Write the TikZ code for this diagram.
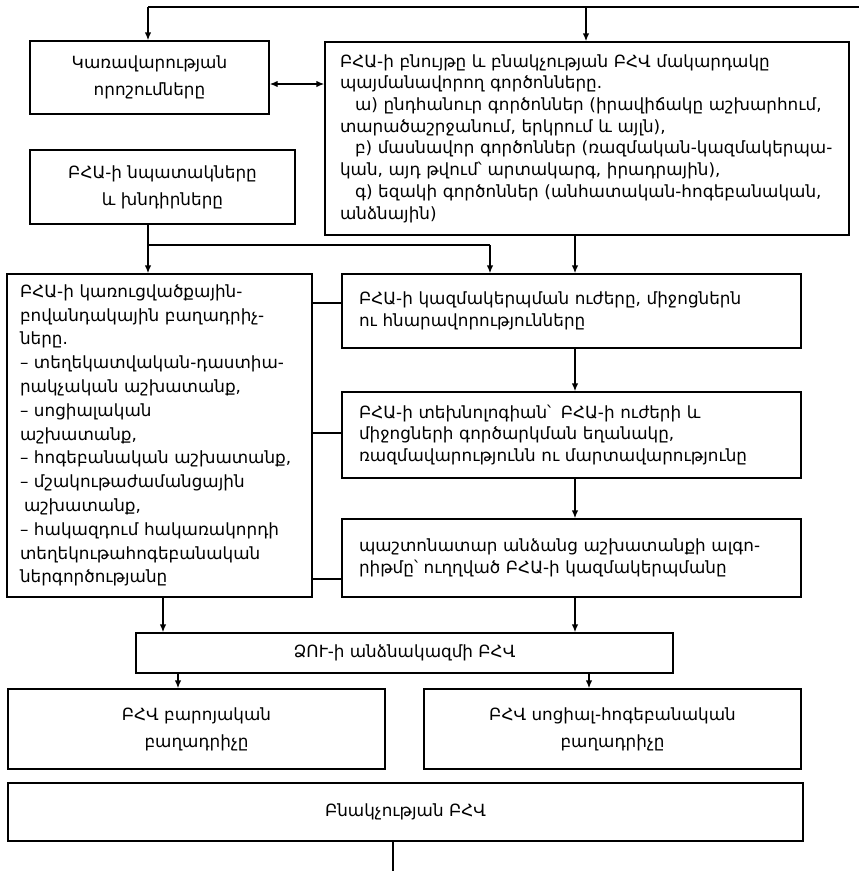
\documentclass[tikz,border=0pt]{standalone}
\usepackage{fontspec}
\setmainfont{DejaVu Sans}
\usetikzlibrary{arrows.meta}
\newcommand\fsA{\fontsize{16.8}{21.7}\selectfont}
\newcommand\fsB{\fontsize{16.8}{23.8}\selectfont}
\newcommand\fsC{\fontsize{16.8}{27}\selectfont}
\begin{document}
\begin{tikzpicture}[x=1pt,y=-1pt,
  box/.style={draw, line width=1.4pt, inner ysep=0pt},
  cbox/.style={box, align=center, font=\fsC},
  lbox/.style={box, align=left},
  arr/.style={-{Latex[length=8pt,width=6.5pt]}, line width=1.4pt},
  ln/.style={line width=1.4pt}]
\useasboundingbox (0,0) rectangle (859,871);
% boxes
\node[cbox, minimum width=239pt, minimum height=73pt] (gov) at (149.5,77.5) {Կառավարության\\որոշումները};
\node[lbox, font=\fsA, minimum width=524pt, minimum height=193pt, text width=498pt, inner xsep=13pt] (fac) at (587,138.5)
 {\hspace*{2pt}ԲՀԱ-ի բնույթը և բնակչության ԲՀՎ մակարդակը\\
  \hspace*{2pt}պայմանավորող գործոնները.\\
  \hspace*{17pt}ա) ընդհանուր գործոններ (իրավիճակը աշխարհում,\\
  \hspace*{2pt}տարածաշրջանում, երկրում և այլն),\\
  \hspace*{17pt}բ) մասնավոր գործոններ (ռազմական-կազմակերպա-\\
  \hspace*{2pt}կան, այդ թվում՝ արտակարգ, իրադրային),\\
  \hspace*{17pt}գ) եզակի գործոններ (անհատական-հոգեբանական,\\
  \hspace*{2pt}անձնային)};
\node[cbox, minimum width=265pt, minimum height=74pt] (goal) at (162.5,187) {ԲՀԱ-ի նպատակները\\և խնդիրները};
\node[lbox, font=\fsB, minimum width=305pt, minimum height=323pt, text width=283pt, inner xsep=11pt] (comp) at (159.5,435.5)
 {\hspace*{2pt}ԲՀԱ-ի կառուցվածքային-\\
  \hspace*{2pt}բովանդակային բաղադրիչ-\\
  \hspace*{2pt}ները.\\
  \hspace*{2pt}– տեղեկատվական-դաստիա-\\
  \hspace*{2pt}րակչական աշխատանք,\\
  \hspace*{2pt}– սոցիալական\\
  \hspace*{2pt}աշխատանք,\\
  \hspace*{2pt}– հոգեբանական աշխատանք,\\
  \hspace*{2pt}– մշակութաժամանցային\\
  \hspace*{6pt}աշխատանք,\\
  \hspace*{2pt}– հակազդում հակառակորդի\\
  \hspace*{2pt}տեղեկութահոգեբանական\\
  \hspace*{2pt}ներգործությանը};
\node[lbox, font=\fsA, minimum width=459pt, minimum height=74pt, text width=429pt, inner xsep=15pt] (forces) at (571.5,311)
 {\hspace*{2pt}ԲՀԱ-ի կազմակերպման ուժերը, միջոցներն\\\hspace*{2pt}ու հնարավորությունները};
\node[lbox, font=\fsA, minimum width=459pt, minimum height=86pt, text width=429pt, inner xsep=15pt] (tech) at (571.5,435)
 {\hspace*{2pt}ԲՀԱ-ի տեխնոլոգիան՝\hspace{4pt} ԲՀԱ-ի ուժերի և\\\hspace*{2pt}միջոցների գործարկման եղանակը,\\\hspace*{2pt}ռազմավարությունն ու մարտավարությունը};
\node[lbox, font=\fsA, minimum width=459pt, minimum height=78pt, text width=429pt, inner xsep=15pt] (algo) at (571.5,558)
 {\hspace*{2pt}պաշտոնատար անձանց աշխատանքի ալգո-\\\hspace*{2pt}րիթմը՝ ուղղված ԲՀԱ-ի կազմակերպմանը};
\node[cbox, minimum width=537pt, minimum height=40pt] (staff) at (404.5,653) {ՁՈՒ-ի անձնակազմի ԲՀՎ};
\node[cbox, minimum width=377pt, minimum height=80pt] (moral) at (196.5,729) {ԲՀՎ բարոյական\\բաղադրիչը};
\node[cbox, minimum width=377pt, minimum height=80pt] (soc) at (612.5,729) {ԲՀՎ սոցիալ-հոգեբանական\\բաղադրիչը};
\node[cbox, minimum width=795pt, minimum height=58pt] (pop) at (405.5,812) {Բնակչության ԲՀՎ};
% coordinates
\coordinate (topR) at (859,7);
\coordinate (bot) at (393,871);
% top feedback line
\draw[ln] (topR) -- (148,7);
\draw[arr] (148,7) -- (gov.north -| 148,0);
\draw[arr] (586,7) -- (fac.north -| 586,0);
\draw[{Latex[length=8pt,width=6.5pt]}-{Latex[length=8pt,width=6.5pt]}, line width=1.4pt] (gov.east |- 0,84) -- (fac.west |- 0,84);
% goals
\draw[arr] (goal.south -| 148,0) -- (comp.north -| 148,0);
\draw[ln] (148,245) -- (490,245);
\draw[arr] (490,245) -- (forces.north -| 490,0);
\draw[arr] (fac.south -| 575,0) -- (forces.north -| 575,0);
\draw[arr] (forces.south -| 575,0) -- (tech.north -| 575,0);
\draw[arr] (tech.south -| 575,0) -- (algo.north -| 575,0);
% side links
\draw[ln] (comp.east |- 0,303) -- (forces.west |- 0,303);
\draw[ln] (comp.east |- 0,433) -- (tech.west |- 0,433);
\draw[ln] (comp.east |- 0,579) -- (algo.west |- 0,579);
% to staff
\draw[arr] (comp.south -| 163,0) -- (staff.north -| 163,0);
\draw[arr] (algo.south -| 575,0) -- (staff.north -| 575,0);
\draw[arr] (staff.south -| 178,0) -- (moral.north -| 178,0);
\draw[arr] (staff.south -| 589,0) -- (soc.north -| 589,0);
\draw[ln] (pop.south -| bot) -- (bot);
\end{tikzpicture}
\end{document}
